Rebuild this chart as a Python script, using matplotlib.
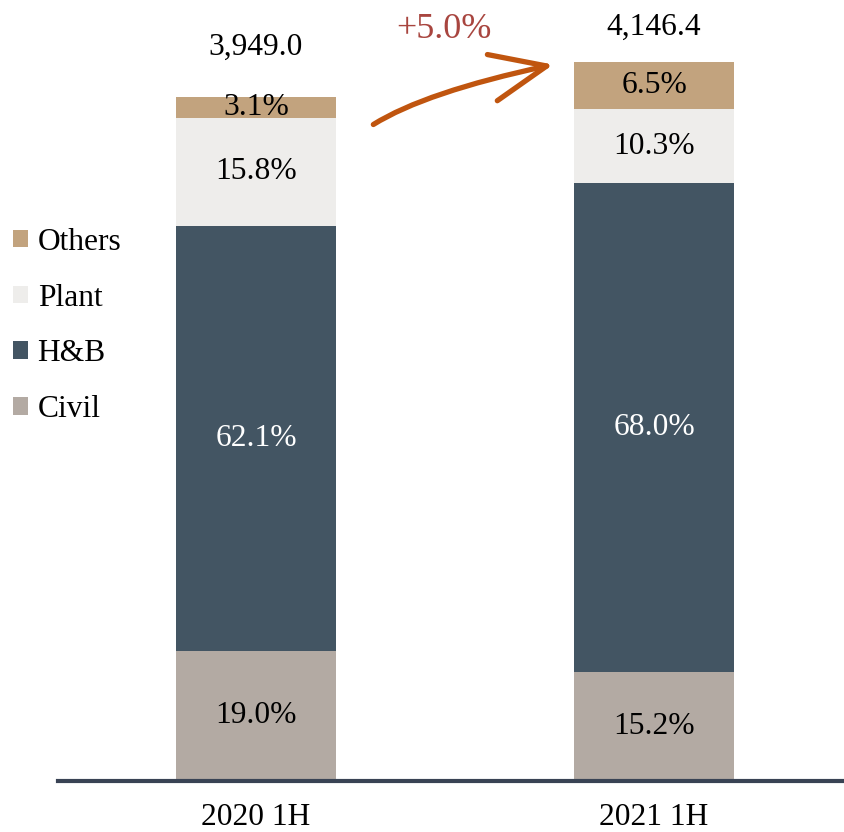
import numpy as np
import matplotlib.pyplot as plt
from matplotlib.patches import Patch

plt.rcParams['font.family'] = ['Liberation Serif', 'DejaVu Serif']

periods = ["2020 1H", "2021 1H"]
totals = [3949.0, 4146.4]
segments = ["Civil", "H&B", "Plant", "Others"]
shares = {
    "Civil": [19.0, 15.2],
    "H&B": [62.1, 68.0],
    "Plant": [15.8, 10.3],
    "Others": [3.1, 6.5],
}
growth_label = "+5.0%"

colors = {
    "Civil": "#b3aaa3",
    "H&B": "#435563",
    "Plant": "#eeedeb",
    "Others": "#c2a37e",
}
text_colors = {"Civil": "black", "H&B": "white", "Plant": "black", "Others": "black"}
total_pad = [42, 27]  # px from bar top to the total label baseline
fs = 22.7

fig = plt.figure(figsize=(8.44, 8.32), dpi=100)
ax = fig.add_axes([58 / 844, 51 / 832, 786 / 844, 780 / 832])

x = np.arange(len(periods))
bottom = np.zeros(len(periods))
for seg in segments:
    vals = np.array(totals) * np.array(shares[seg]) / 100.0
    ax.bar(x, vals, bottom=bottom, width=0.402, color=colors[seg], linewidth=0)
    for i in range(len(periods)):
        ax.text(x[i], bottom[i] + vals[i] / 2, "{0:.1f}%".format(shares[seg][i]),
                ha="center", va="center", fontsize=fs, color=text_colors[seg])
    bottom += vals

for i in range(len(periods)):
    ax.annotate("{0:,.1f}".format(totals[i]), xy=(x[i], totals[i]),
                xytext=(0, total_pad[i] * 0.72), textcoords="offset points",
                ha="center", va="baseline", fontsize=fs, color="black")

ax.set_xlim(-0.4975, 1.477)
ax.set_ylim(0, 4500)
ax.set_xticks(x)
ax.set_xticklabels(periods, fontsize=fs)
ax.set_yticks([])
ax.tick_params(axis="x", length=0, pad=16)
for side in ["left", "right", "top"]:
    ax.spines[side].set_visible(False)
ax.spines["bottom"].set_color("#394354")
ax.spines["bottom"].set_linewidth(3)

handles = [Patch(facecolor=colors[s], edgecolor="none", label=s) for s in segments[::-1]]
fig.legend(handles=handles, loc="center left", bbox_to_anchor=(13 / 844, 1 - 326 / 832),
           frameon=False, fontsize=fs, handlelength=0.48, handleheight=0.48,
           handletextpad=0.3, labelspacing=0.85, borderpad=0, borderaxespad=0)

# growth arrow
ax.annotate("", xy=(556, 832 - 64), xycoords="figure pixels",
            xytext=(371, 832 - 126), textcoords="figure pixels",
            arrowprops=dict(arrowstyle="->,head_length=4.0,head_width=1.7",
                            color="#c0550f", lw=3.8,
                            connectionstyle="angle3,angleA=33,angleB=12"))
fig.text(444 / 844, 1 - 30 / 832, growth_label, ha="center", va="center",
         fontsize=26, color="#a8453f")

fig.savefig("out.png", dpi=100)
